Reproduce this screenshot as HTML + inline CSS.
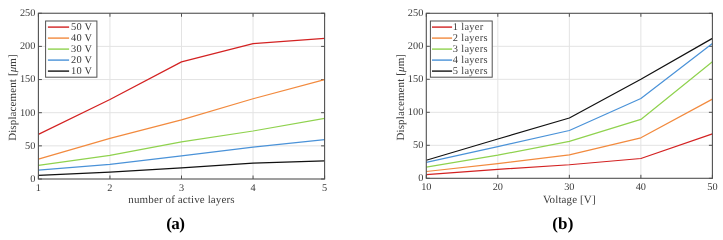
<!DOCTYPE html>
<html><head><meta charset="utf-8"><style>
html,body{margin:0;padding:0;background:#fff;}
body{width:723px;height:240px;overflow:hidden;}
svg{display:block;text-rendering:geometricPrecision;will-change:transform;filter:blur(0.35px);}
.tk{font-family:"Liberation Serif",serif;font-size:10.3px;fill:#3c3c3c;}
.cap{font-family:"Liberation Serif",serif;font-size:17px;font-weight:bold;fill:#000;letter-spacing:-0.5px;}
.lb{font-family:"Liberation Serif",serif;font-size:11px;fill:#3c3c3c;letter-spacing:0.12px;}
.lg{font-family:"Liberation Serif",serif;font-size:10.4px;fill:#3c3c3c;letter-spacing:0.3px;}
</style></head><body>
<svg width="723" height="240" viewBox="0 0 723 240">
<rect width="723" height="240" fill="#fff"/>
<path d="M109.95 13.25V179.0M181.50 13.25V179.0M253.05 13.25V179.0M38.4 145.85H324.6M38.4 112.70H324.6M38.4 79.55H324.6M38.4 46.40H324.6" stroke="#e3e3e3" stroke-width="1" fill="none"/>
<path d="M38.40 179.0v-3.5M38.40 13.25v3.5M109.95 179.0v-3.5M109.95 13.25v3.5M181.50 179.0v-3.5M181.50 13.25v3.5M253.05 179.0v-3.5M253.05 13.25v3.5M324.60 179.0v-3.5M324.60 13.25v3.5M38.4 179.00h3.5M324.6 179.00h-3.5M38.4 145.85h3.5M324.6 145.85h-3.5M38.4 112.70h3.5M324.6 112.70h-3.5M38.4 79.55h3.5M324.6 79.55h-3.5M38.4 46.40h3.5M324.6 46.40h-3.5M38.4 13.25h3.5M324.6 13.25h-3.5" stroke="#505050" stroke-width="1" fill="none"/>
<polyline points="38.40,134.38 109.95,99.44 181.50,61.85 253.05,43.55 324.60,38.44" stroke="#d32222" stroke-width="1.2" fill="none" stroke-linejoin="round"/>
<polyline points="38.40,159.11 109.95,138.36 181.50,119.86 253.05,98.78 324.60,79.55" stroke="#f28a3e" stroke-width="1.2" fill="none" stroke-linejoin="round"/>
<polyline points="38.40,165.41 109.95,155.46 181.50,141.87 253.05,131.00 324.60,118.40" stroke="#8fd24e" stroke-width="1.2" fill="none" stroke-linejoin="round"/>
<polyline points="38.40,170.05 109.95,164.28 181.50,155.80 253.05,147.18 324.60,139.55" stroke="#4a92d8" stroke-width="1.2" fill="none" stroke-linejoin="round"/>
<polyline points="38.40,175.35 109.95,172.17 181.50,167.86 253.05,163.09 324.60,160.90" stroke="#111111" stroke-width="1.2" fill="none" stroke-linejoin="round"/>
<rect x="38.4" y="13.25" width="286.20000000000005" height="165.75" stroke="#505050" stroke-width="1.1" fill="none"/>
<text x="38.40" y="190.90" text-anchor="middle" class="tk">1</text>
<text x="109.95" y="190.90" text-anchor="middle" class="tk">2</text>
<text x="181.50" y="190.90" text-anchor="middle" class="tk">3</text>
<text x="253.05" y="190.90" text-anchor="middle" class="tk">4</text>
<text x="324.60" y="190.90" text-anchor="middle" class="tk">5</text>
<text x="35.40" y="181.80" text-anchor="end" class="tk">0</text>
<text x="35.40" y="148.65" text-anchor="end" class="tk">50</text>
<text x="35.40" y="115.50" text-anchor="end" class="tk">100</text>
<text x="35.40" y="82.35" text-anchor="end" class="tk">150</text>
<text x="35.40" y="49.20" text-anchor="end" class="tk">200</text>
<text x="35.40" y="16.05" text-anchor="end" class="tk">250</text>
<text x="181.50" y="202.9" text-anchor="middle" class="lb">number of active layers</text>
<text transform="translate(15.60,97.53) rotate(-90)" text-anchor="middle" class="lb">Displacement [<tspan font-style="italic">μ</tspan>m]</text>
<rect x="45.6" y="21" width="51.3" height="56.2" fill="#fff" stroke="#505050" stroke-width="1"/>
<path d="M47.9 27.10H69.1" stroke="#d32222" stroke-width="1.4"/>
<text x="70.9" y="29.70" class="lg">50 V</text>
<path d="M47.9 38.10H69.1" stroke="#f28a3e" stroke-width="1.4"/>
<text x="70.9" y="40.70" class="lg">40 V</text>
<path d="M47.9 49.10H69.1" stroke="#8fd24e" stroke-width="1.4"/>
<text x="70.9" y="51.70" class="lg">30 V</text>
<path d="M47.9 60.10H69.1" stroke="#4a92d8" stroke-width="1.4"/>
<text x="70.9" y="62.70" class="lg">20 V</text>
<path d="M47.9 71.10H69.1" stroke="#111111" stroke-width="1.4"/>
<text x="70.9" y="73.70" class="lg">10 V</text>
<path d="M497.82 13.3V178.3M569.35 13.3V178.3M640.88 13.3V178.3M426.3 145.30H712.4M426.3 112.30H712.4M426.3 79.30H712.4M426.3 46.30H712.4" stroke="#e3e3e3" stroke-width="1" fill="none"/>
<path d="M426.30 178.3v-3.5M426.30 13.3v3.5M497.82 178.3v-3.5M497.82 13.3v3.5M569.35 178.3v-3.5M569.35 13.3v3.5M640.88 178.3v-3.5M640.88 13.3v3.5M712.40 178.3v-3.5M712.40 13.3v3.5M426.3 178.30h3.5M712.4 178.30h-3.5M426.3 145.30h3.5M712.4 145.30h-3.5M426.3 112.30h3.5M712.4 112.30h-3.5M426.3 79.30h3.5M712.4 79.30h-3.5M426.3 46.30h3.5M712.4 46.30h-3.5M426.3 13.30h3.5M712.4 13.30h-3.5" stroke="#505050" stroke-width="1" fill="none"/>
<polyline points="426.30,174.67 497.82,169.39 569.35,164.77 640.88,158.50 712.40,133.88" stroke="#d32222" stroke-width="1.2" fill="none" stroke-linejoin="round"/>
<polyline points="426.30,171.50 497.82,163.65 569.35,154.87 640.88,137.84 712.40,99.10" stroke="#f28a3e" stroke-width="1.2" fill="none" stroke-linejoin="round"/>
<polyline points="426.30,167.21 497.82,155.20 569.35,141.34 640.88,119.43 712.40,61.68" stroke="#8fd24e" stroke-width="1.2" fill="none" stroke-linejoin="round"/>
<polyline points="426.30,162.46 497.82,146.62 569.35,130.52 640.88,98.44 712.40,43.46" stroke="#4a92d8" stroke-width="1.2" fill="none" stroke-linejoin="round"/>
<polyline points="426.30,160.28 497.82,139.03 569.35,117.98 640.88,79.30 712.40,38.38" stroke="#111111" stroke-width="1.2" fill="none" stroke-linejoin="round"/>
<rect x="426.3" y="13.3" width="286.09999999999997" height="165.0" stroke="#505050" stroke-width="1.1" fill="none"/>
<text x="426.30" y="190.20" text-anchor="middle" class="tk">10</text>
<text x="497.82" y="190.20" text-anchor="middle" class="tk">20</text>
<text x="569.35" y="190.20" text-anchor="middle" class="tk">30</text>
<text x="640.88" y="190.20" text-anchor="middle" class="tk">40</text>
<text x="712.40" y="190.20" text-anchor="middle" class="tk">50</text>
<text x="423.30" y="181.10" text-anchor="end" class="tk">0</text>
<text x="423.30" y="148.10" text-anchor="end" class="tk">50</text>
<text x="423.30" y="115.10" text-anchor="end" class="tk">100</text>
<text x="423.30" y="82.10" text-anchor="end" class="tk">150</text>
<text x="423.30" y="49.10" text-anchor="end" class="tk">200</text>
<text x="423.30" y="16.10" text-anchor="end" class="tk">250</text>
<text x="569.35" y="202.9" text-anchor="middle" class="lb">Voltage [V]</text>
<text transform="translate(403.50,97.20) rotate(-90)" text-anchor="middle" class="lb">Displacement [<tspan font-style="italic">μ</tspan>m]</text>
<rect x="430.4" y="21" width="61.8" height="56.2" fill="#fff" stroke="#505050" stroke-width="1"/>
<path d="M432 27.10H452.1" stroke="#d32222" stroke-width="1.4"/>
<text x="452.8" y="29.70" class="lg">1 layer</text>
<path d="M432 38.10H452.1" stroke="#f28a3e" stroke-width="1.4"/>
<text x="452.8" y="40.70" class="lg">2 layers</text>
<path d="M432 49.10H452.1" stroke="#8fd24e" stroke-width="1.4"/>
<text x="452.8" y="51.70" class="lg">3 layers</text>
<path d="M432 60.10H452.1" stroke="#4a92d8" stroke-width="1.4"/>
<text x="452.8" y="62.70" class="lg">4 layers</text>
<path d="M432 71.10H452.1" stroke="#111111" stroke-width="1.4"/>
<text x="452.8" y="73.70" class="lg">5 layers</text>
<text x="175.3" y="229" text-anchor="middle" class="cap">(a)</text>
<text x="563" y="229.3" text-anchor="middle" class="cap" style="letter-spacing:0.3px">(b)</text>
</svg>
</body></html>
